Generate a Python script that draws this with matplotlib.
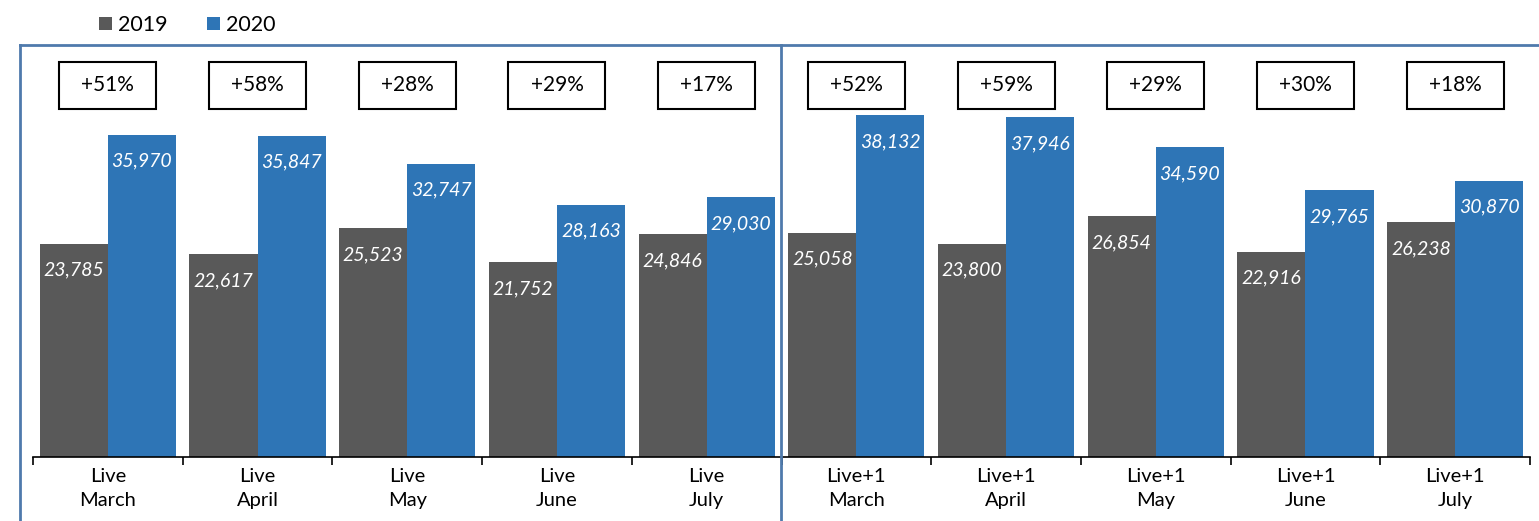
import matplotlib.pyplot as plt
from matplotlib.patches import Rectangle
from matplotlib.lines import Line2D
import numpy as np

plt.rcParams['font.family'] = ['Lato', 'DejaVu Sans']

#Chart data
#--------------------------------------------------------
groups = ["Live\nMarch", "Live\nApril", "Live\nMay", "Live\nJune", "Live\nJuly",
          "Live+1\nMarch", "Live+1\nApril", "Live+1\nMay", "Live+1\nJune", "Live+1\nJuly"]
vals_2019 = [23785, 22617, 25523, 21752, 24846, 25058, 23800, 26854, 22916, 26238]
vals_2020 = [35970, 35847, 32747, 28163, 29030, 38132, 37946, 34590, 29765, 30870]
pct_labels = ["+51%", "+58%", "+28%", "+29%", "+17%",
              "+52%", "+59%", "+29%", "+30%", "+18%"]

gray = '#595959'
blue = '#2E75B6'
frame = '#4f7aac'

W, H = 1539, 521
fig = plt.figure(figsize=(W / 100, H / 100), dpi=100)

#axes placed in pixel terms
ax_left, ax_right, ax_bot, ax_top = 33, 1530, 457, 45
ax = fig.add_axes([ax_left / W, (H - ax_bot) / H,
                   (ax_right - ax_left) / W, (ax_bot - ax_top) / H])

x = np.arange(len(groups))
bw = 0.455
ax.bar(x - bw / 2, vals_2019, bw, color=gray, label='2019')
ax.bar(x + bw / 2, vals_2020, bw, color=blue, label='2020')

ax.set_xlim(-0.5, len(groups) - 0.5)
ax.set_ylim(0, 46000)

# value labels inside the bars
for xi, v in zip(x - bw / 2, vals_2019):
    ax.annotate(f"{v:,}", (xi, v), xytext=(0, -19), textcoords='offset points',
                ha='center', va='center', color='white', style='italic', fontsize=14)
for xi, v in zip(x + bw / 2, vals_2020):
    ax.annotate(f"{v:,}", (xi, v), xytext=(0, -19), textcoords='offset points',
                ha='center', va='center', color='white', style='italic', fontsize=14)

# percentage boxes
box_w, box_lo, box_hi = 0.648, 38880, 44130
for xi, p in zip(x, pct_labels):
    ax.add_patch(Rectangle((xi - box_w / 2, box_lo), box_w, box_hi - box_lo,
                           fill=False, edgecolor='black', lw=1.5))
    ax.text(xi, (box_lo + box_hi) / 2, p, ha='center', va='center', fontsize=15)

# axes styling
for s in ['top', 'right', 'left']:
    ax.spines[s].set_visible(False)
ax.spines['bottom'].set_color('black')
ax.spines['bottom'].set_linewidth(1.2)
ax.set_yticks([])
ax.set_xticks(x)
ax.set_xticklabels(groups, fontsize=14.5, linespacing=1.5)
ax.tick_params(axis='x', which='major', length=0, pad=8)
ax.set_xticks(np.arange(-0.5, len(groups), 1), minor=True)
ax.tick_params(axis='x', which='minor', length=6, width=1.2, color='black')

# blue frames around the two panels
fig.add_artist(Line2D([20 / W, 20 / W], [0, (H - 45) / H], color=frame, lw=2))
fig.add_artist(Line2D([20 / W, 1.0], [(H - 45) / H, (H - 45) / H], color=frame, lw=2))
fig.add_artist(Line2D([781 / W, 781 / W], [0, (H - 45) / H], color=frame, lw=2))

# legend
fig.legend(loc='upper left', bbox_to_anchor=(84 / W, 1.0), ncol=2, frameon=False,
           fontsize=15.5, handlelength=0.6, handleheight=0.6, handletextpad=0.3,
           columnspacing=1.8, borderaxespad=0.3)

fig.savefig('out.png', dpi=100)
